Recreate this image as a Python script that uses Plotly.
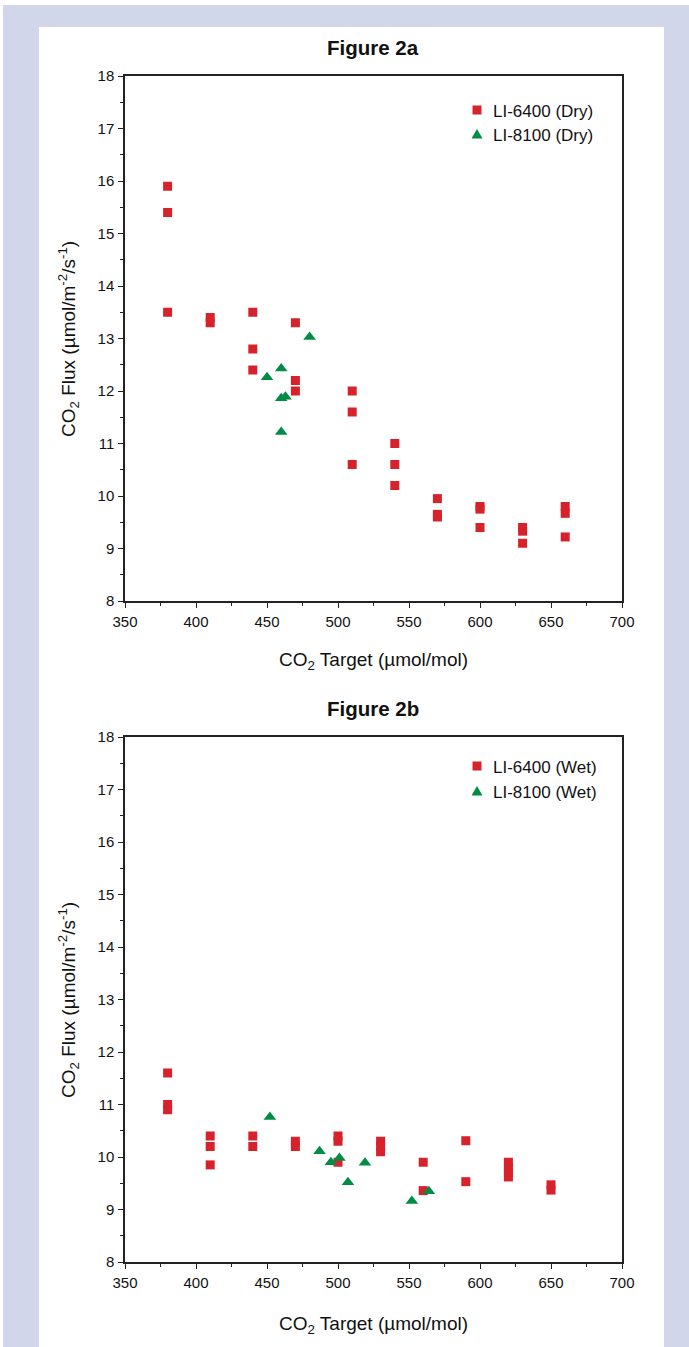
import plotly.graph_objects as go
from plotly.subplots import make_subplots

W, H = 689, 1347

# ---- Figure 2a (Dry) ----
dry6400_x = [380, 380, 380, 410, 410, 440, 440, 440, 470, 470, 470,
             510, 510, 510, 540, 540, 540, 570, 570, 570, 600, 600, 600,
             630, 630, 630, 660, 660, 660]
dry6400_y = [15.9, 15.4, 13.5, 13.4, 13.3, 13.5, 12.8, 12.4, 13.3, 12.2, 12.0,
             12.0, 11.6, 10.6, 11.0, 10.6, 10.2, 9.95, 9.65, 9.6, 9.8, 9.75, 9.4,
             9.4, 9.33, 9.1, 9.8, 9.67, 9.22]
dry8100_x = [450, 460, 460, 463, 460, 480]
dry8100_y = [12.26, 12.43, 11.86, 11.89, 11.22, 13.03]

# ---- Figure 2b (Wet) ----
wet6400_x = [380, 380, 380, 410, 410, 410, 440, 440, 470, 470,
             500, 500, 500, 530, 530, 530, 560, 560, 590, 590,
             620, 620, 620, 620, 650, 650]
wet6400_y = [11.6, 11.0, 10.9, 10.4, 10.2, 9.85, 10.4, 10.2, 10.3, 10.2,
             10.4, 10.3, 9.9, 10.3, 10.2, 10.1, 9.9, 9.36, 10.31, 9.53,
             9.9, 9.8, 9.7, 9.62, 9.47, 9.37]
wet8100_x = [452, 487, 495, 501, 507, 519, 552, 564]
wet8100_y = [10.76, 10.11, 9.9, 9.98, 9.52, 9.89, 9.16, 9.35]

x_ticks = [350, 400, 450, 500, 550, 600, 650, 700]
y_ticks = [8, 9, 10, 11, 12, 13, 14, 15, 16, 17, 18]

RED = "#D7222C"
GREEN = "#008C45"
LAV = "#D1D6EA"
FONT = "Liberation Sans"

# plot area in pixels
L, R, T, B = 125, 622, 76, 1262
PW, PH = R - L, B - T


def fx(px):
    return (px - L) / PW


def fy(py):
    return (B - py) / PH


top_dom = [fy(601), 1.0]
bot_dom = [0.0, fy(737)]

fig = make_subplots(rows=2, cols=1)

fig.add_trace(go.Scatter(x=dry6400_x, y=dry6400_y, mode="markers",
                         marker=dict(symbol="square", size=9, color=RED),
                         showlegend=False), row=1, col=1)
fig.add_trace(go.Scatter(x=dry8100_x, y=dry8100_y, mode="markers",
                         marker=dict(symbol="triangle-up", size=11, color=GREEN),
                         showlegend=False), row=1, col=1)
fig.add_trace(go.Scatter(x=wet6400_x, y=wet6400_y, mode="markers",
                         marker=dict(symbol="square", size=9, color=RED),
                         showlegend=False), row=2, col=1)
fig.add_trace(go.Scatter(x=wet8100_x, y=wet8100_y, mode="markers",
                         marker=dict(symbol="triangle-up", size=11, color=GREEN),
                         showlegend=False), row=2, col=1)

axis_common = dict(showline=True, linecolor="#222222", linewidth=1.5, mirror=True,
                   showgrid=False, zeroline=False, ticks="outside", ticklen=5,
                   tickwidth=1.3, tickcolor="#222222",
                   tickfont=dict(family=FONT, size=15, color="#111111"))

for r, dom in ((1, top_dom), (2, bot_dom)):
    xa = "xaxis" if r == 1 else "xaxis2"
    ya = "yaxis" if r == 1 else "yaxis2"
    fig.update_layout({
        xa: dict(axis_common, range=[350, 700], tickvals=x_ticks, domain=[0, 1],
                 minor=dict(ticks="outside", ticklen=3, tickwidth=1.2,
                            tickcolor="#222222", dtick=25, tick0=350),
                 ticklabelstandoff=1),
        ya: dict(axis_common, range=[8, 18], tickvals=y_ticks, domain=dom,
                 minor=dict(ticks="outside", ticklen=3, tickwidth=1.2,
                            tickcolor="#222222", dtick=0.5, tick0=8),
                 ticklabelstandoff=1),
    })

shapes = [
    dict(type="rect", xref="paper", yref="paper", layer="below",
         x0=fx(3), x1=fx(W + 5), y0=fy(H + 5), y1=fy(5),
         fillcolor=LAV, line=dict(width=0)),
    dict(type="rect", xref="paper", yref="paper", layer="below",
         x0=fx(39), x1=fx(664), y0=fy(H + 5), y1=fy(27),
         fillcolor="white", line=dict(width=0)),
]

annotations = []


def ann(text, x, y, size, bold=False, angle=0, xanchor="center"):
    annotations.append(dict(text=f"<b>{text}</b>" if bold else text,
                            x=fx(x), y=fy(y), xref="paper", yref="paper",
                            showarrow=False, textangle=angle, xanchor=xanchor,
                            yanchor="middle",
                            font=dict(family=FONT, size=size, color="#111111")))


ann("Figure 2a", 373, 47, 20.5, bold=True)
ann("Figure 2b", 373, 708, 20.5, bold=True)
xt = "CO<sub>2</sub> Target (µmol/mol)"
yt = "CO<sub>2</sub> Flux (µmol/m<sup>-2</sup>/s<sup>-1</sup>)"
ann(xt, 373, 661, 19)
ann(xt, 373, 1325, 19)
ann(yt, 68, 339, 19, angle=-90)
ann(yt, 68, 1000, 19, angle=-90)

# legends
ann("LI-6400 (Dry)", 491, 111, 17, xanchor="left")
ann("LI-8100 (Dry)", 491, 135, 17, xanchor="left")
ann("LI-6400 (Wet)", 491, 767, 17, xanchor="left")
ann("LI-8100 (Wet)", 491, 792, 17, xanchor="left")

leg_sq = [(477, 110), (477, 766)]
leg_tri = [(477, 134), (477, 791)]
for (px, py) in leg_sq:
    shapes.append(dict(type="rect", xref="paper", yref="paper",
                       x0=fx(px - 4.5), x1=fx(px + 4.5), y0=fy(py + 4.5), y1=fy(py - 4.5),
                       fillcolor=RED, line=dict(width=0)))
for (px, py) in leg_tri:
    x0, x1, xm = fx(px - 5.5), fx(px + 5.5), fx(px)
    yb, ytop = fy(py + 4.5), fy(py - 5)
    shapes.append(dict(type="path", xref="paper", yref="paper",
                       path=f"M {x0} {yb} L {x1} {yb} L {xm} {ytop} Z",
                       fillcolor=GREEN, line=dict(width=0)))

fig.update_layout(width=W, height=H, margin=dict(l=L, r=W - R, t=T, b=H - B),
                  paper_bgcolor="white", plot_bgcolor="white",
                  shapes=shapes, annotations=annotations, showlegend=False)

fig.write_html("out.html", config={"displayModeBar": False},
               post_script="document.body.style.margin='0px';document.body.style.overflow='hidden';")
